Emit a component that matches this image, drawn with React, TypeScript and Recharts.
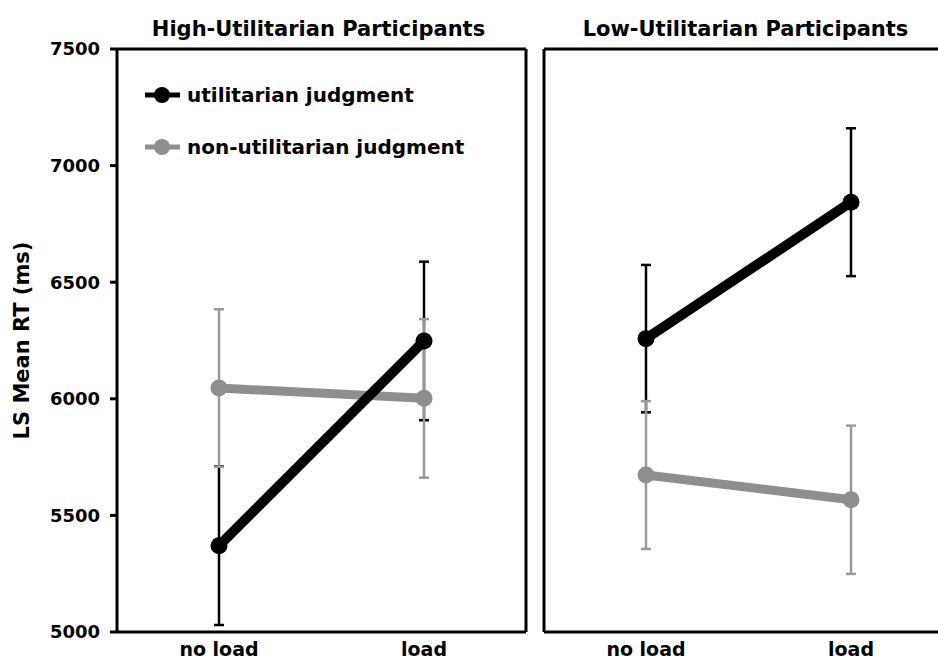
import React from "react";
import { LineChart, Line, XAxis, YAxis, ErrorBar, Legend } from "recharts";

// conditions on the x axis
const conditions = ["no load", "load"];
const yTicks = [5000, 5500, 6000, 6500, 7000, 7500];

// High-Utilitarian participants
const highUtil = [5370, 6248];
const highUtilErr = [340, 340];
const highNonUtil = [6046, 6002];
const highNonUtilErr = [338, 340];

// Low-Utilitarian participants
const lowUtil = [6258, 6843];
const lowUtilErr = [316, 317];
const lowNonUtil = [5673, 5567];
const lowNonUtilErr = [317, 318];

const seriesNames = ["utilitarian judgment", "non-utilitarian judgment"];
const lineColors = ["#000000", "#8e8e8e"];
const errColors = ["#000000", "#999999"];

const toRows = (u: number[], ue: number[], n: number[], ne: number[]) =>
  conditions.map((c, i) => ({ cond: c, util: u[i], utilErr: ue[i], non: n[i], nonErr: ne[i] }));

const highData = toRows(highUtil, highUtilErr, highNonUtil, highNonUtilErr);
const lowData = toRows(lowUtil, lowUtilErr, lowNonUtil, lowNonUtilErr);

const FONT = "'DejaVu Sans', Verdana, sans-serif";
const frame = { stroke: "#000", strokeWidth: 3 };
const xPad = { left: 102, right: 102 };

const PanelTitle = ({ viewBox, text }: any) => (
  <text
    x={viewBox.x + viewBox.width / 2 - 3}
    y={viewBox.y + viewBox.height - 13}
    textAnchor="middle"
    fontSize={21}
    fontWeight="bold"
    fill="#000"
    fontFamily={FONT}
  >
    {text}
  </text>
);

const YTitle = ({ viewBox }: any) => {
  const x = viewBox.x + 22;
  const y = viewBox.y + viewBox.height / 2;
  return (
    <text
      x={x}
      y={y}
      transform={`rotate(-90, ${x}, ${y})`}
      textAnchor="middle"
      dominantBaseline="central"
      fontSize={21}
      fontWeight="bold"
      fill="#000"
      fontFamily={FONT}
    >
      LS Mean RT (ms)
    </text>
  );
};

const LegendBox = () => (
  <svg width={360} height={90} style={{ display: "block" }}>
    {seriesNames.map((name, i) => {
      const cy = 17 + i * 52;
      return (
        <g key={name}>
          <line x1={5} x2={40} y1={cy} y2={cy} stroke={lineColors[i]} strokeWidth={5} />
          <circle cx={22} cy={cy} r={8} fill={lineColors[i]} />
          <text x={47} y={cy} dy="0.35em" fontSize={20} fontWeight="bold" fill="#000" fontFamily={FONT}>
            {name}
          </text>
        </g>
      );
    })}
  </svg>
);

function Panel({ data, title, first }: { data: any[]; title: string; first: boolean }) {
  return (
    <LineChart
      width={first ? 540 : 420}
      height={662}
      data={data}
      margin={{ top: 48, right: first ? 13 : 6, bottom: 0, left: 0 }}
    >
      <XAxis
        dataKey="cond"
        height={30}
        padding={xPad}
        axisLine={frame}
        tickLine={false}
        tickSize={6}
        tickMargin={5}
        tick={{ fill: "#000", fontSize: 19, fontWeight: "bold" }}
      />
      <XAxis
        xAxisId="top"
        orientation="top"
        dataKey="cond"
        height={1}
        padding={xPad}
        axisLine={frame}
        tick={false}
        tickLine={false}
        label={<PanelTitle text={title} />}
      />
      {first ? (
        <YAxis
          type="number"
          domain={[5000, 7500]}
          ticks={yTicks}
          width={117}
          axisLine={frame}
          tickLine={{ stroke: "#000", strokeWidth: 3 }}
          tickSize={7}
          tickMargin={10}
          tick={{ fill: "#000", fontSize: 18, fontWeight: "bold" }}
          label={<YTitle />}
        />
      ) : (
        <YAxis
          type="number"
          domain={[5000, 7500]}
          ticks={yTicks}
          width={4}
          axisLine={frame}
          tick={false}
          tickLine={false}
        />
      )}
      <YAxis
        yAxisId="r"
        orientation="right"
        type="number"
        domain={[5000, 7500]}
        width={1}
        axisLine={frame}
        tick={false}
        tickLine={false}
      />
      {first && (
        <Legend
          layout="vertical"
          align="center"
          verticalAlign="middle"
          content={<LegendBox />}
          wrapperStyle={{ position: "absolute", left: 140, top: 78, width: 360, height: 90 }}
        />
      )}
      {/* error bars first so the lines sit on top */}
      <Line
        xAxisId="top"
        yAxisId="r"
        dataKey="util"
        stroke="none"
        dot={false}
        activeDot={false}
        legendType="none"
        isAnimationActive={false}
      >
        <ErrorBar dataKey="utilErr" direction="y" width={5} strokeWidth={2.5} stroke={errColors[0]} isAnimationActive={false} />
      </Line>
      <Line
        xAxisId="top"
        yAxisId="r"
        dataKey="non"
        stroke="none"
        dot={false}
        activeDot={false}
        legendType="none"
        isAnimationActive={false}
      >
        <ErrorBar dataKey="nonErr" direction="y" width={5} strokeWidth={2.5} stroke={errColors[1]} isAnimationActive={false} />
      </Line>
      <Line
        type="linear"
        dataKey="non"
        stroke={lineColors[1]}
        strokeWidth={9}
        dot={{ r: 8.5, fill: lineColors[1], strokeWidth: 0 }}
        activeDot={false}
        isAnimationActive={false}
      />
      <Line
        type="linear"
        dataKey="util"
        stroke={lineColors[0]}
        strokeWidth={10}
        dot={{ r: 8.5, fill: lineColors[0], strokeWidth: 0 }}
        activeDot={false}
        isAnimationActive={false}
      />
    </LineChart>
  );
}

export default function App() {
  return (
    <div
      style={{
        position: "absolute",
        left: 0,
        top: 0,
        width: 938,
        height: 662,
        overflow: "hidden",
        background: "#fff",
        fontFamily: FONT,
      }}
    >
      <div style={{ position: "absolute", left: 0, top: 0 }}>
        <Panel data={highData} title="High-Utilitarian Participants" first />
      </div>
      <div style={{ position: "absolute", left: 540, top: 0 }}>
        <Panel data={lowData} title="Low-Utilitarian Participants" first={false} />
      </div>
    </div>
  );
}
